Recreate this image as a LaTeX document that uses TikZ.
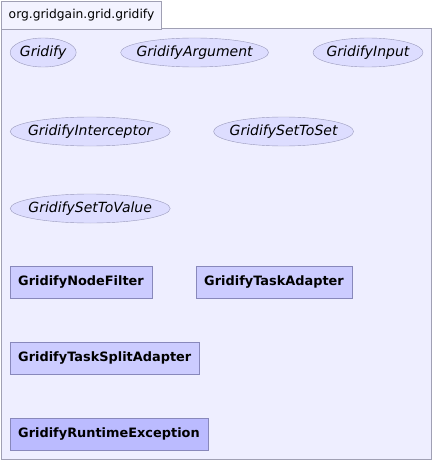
\documentclass[tikz,border=0pt]{standalone}
\usepackage{fontspec}
\setmainfont{DejaVu Sans}
\usetikzlibrary{shapes,positioning}
\definecolor{pkgfill}{HTML}{EEEEFF}
\definecolor{tabfill}{HTML}{F3F3FF}
\definecolor{pkgline}{HTML}{A0A0B4}
\definecolor{ifacefill}{HTML}{DDDDFF}
\definecolor{ifaceline}{HTML}{9999BB}
\definecolor{clsfill}{HTML}{CCCCFF}
\definecolor{clsline}{HTML}{8888BB}
\definecolor{excfill}{HTML}{BBBBFF}
\tikzset{
        pkg/.style = {draw=pkgline, fill=pkgfill, line width=1pt},
        tab/.style = {draw=pkgline, fill=tabfill, line width=1pt,
            inner sep=0pt,
            minimum width=160pt,
            minimum height=28pt,
            font=\fontsize{12.3}{14}\selectfont},
        iface/.style = {ellipse, draw=ifaceline, fill=ifacefill,
            inner sep=0pt,
            minimum height=29pt,
            font=\fontsize{14}{16}\selectfont\itshape},
        cls/.style = {rectangle, draw=clsline, fill=clsfill,
            inner xsep=8pt,
            minimum height=32pt,
            font=\fontsize{12.9}{15}\selectfont\bfseries},
        excls/.style = {cls, fill=excfill},
    }
% text box of zero width, so the ellipse keeps its given width
\newcommand{\iname}[1]{\makebox[0pt]{#1}}

\begin{document}
\begin{tikzpicture}[x=1pt,y=-1pt]
        \useasboundingbox (0,0) rectangle (432,460);
        \draw[pkg] (1,29) rectangle (431,459);
        \node[tab, anchor=north west] (pkgname) at (1,1) {org.gridgain.grid.gridify};

        % interfaces
        \node[iface, minimum width=66pt, anchor=west] (gridify) at (10,52.5) {\iname{Gridify}};
        \node[iface, minimum width=148pt, right=44pt of gridify] (argument) {\iname{GridifyArgument}};
        \node[iface, minimum width=110pt, right=44pt of argument] (input) {\iname{GridifyInput}};

        \node[iface, minimum width=160pt, anchor=west] (interceptor) at (10,131.5) {\iname{GridifyInterceptor}};
        \node[iface, minimum width=140pt, right=43pt of interceptor] (settoset) {\iname{GridifySetToSet}};

        \node[iface, minimum width=160pt, anchor=west] (settovalue) at (10,208.5) {\iname{GridifySetToValue}};

        % classes
        \node[cls, anchor=west] (nodefilter) at (10,282) {GridifyNodeFilter};
        \node[cls, right=44pt of nodefilter] (taskadapter) {GridifyTaskAdapter};

        \node[cls, anchor=west] (tasksplit) at (10,358) {GridifyTaskSplitAdapter};

        \node[excls, anchor=west] (runtimeexc) at (10,434) {GridifyRuntimeException};
    \end{tikzpicture}
\end{document}
